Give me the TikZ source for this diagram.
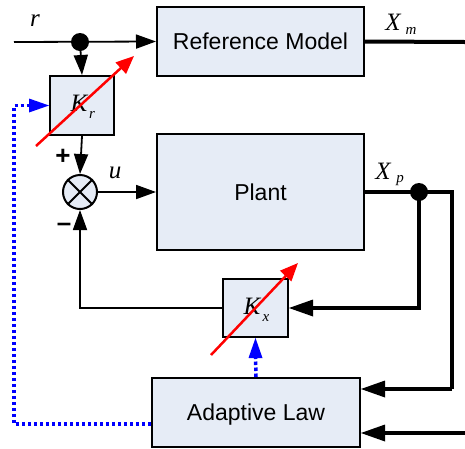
\documentclass[tikz,border=0pt]{standalone}
\usepackage{fontspec}
\setmainfont{Liberation Serif}
\newfontfamily\arialf{Liberation Sans}
\usetikzlibrary{arrows.meta}
\definecolor{boxfill}{RGB}{230,236,246}
\begin{document}
\begin{tikzpicture}[x=1pt,y=-1pt,
  blk/.style={draw=black,line width=2pt,fill=boxfill,inner sep=0pt},
  bigtext/.style={font=\arialf\fontsize{23}{23}\selectfont},
  thin/.style={line width=1.8pt},
  thick4/.style={line width=4pt},
  tip/.style={-{Triangle[length=20pt,width=14pt]}},
  bigtip/.style={line width=0pt,-{Triangle[length=24pt,width=17pt]}},
  redarr/.style={draw=red,line width=2.5pt,-{Triangle[length=18pt,width=15pt]}},
  bluedot/.style={draw=blue,line width=3.5pt,dash pattern=on 3.5pt off 2.5pt},
  bluetip/.style={draw=blue,fill=blue,line width=0pt,-{Triangle[length=20pt,width=14pt]}},
  lab/.style={font=\fontsize{25}{25}\selectfont\itshape,inner sep=0pt},
  sub/.style={font=\fontsize{15}{15}\selectfont\itshape,inner sep=0pt},
  sign/.style={font=\arialf\fontsize{26}{26}\selectfont\bfseries,inner sep=0pt}]
\useasboundingbox (0,0) rectangle (465,448);
% blocks
\node[blk,minimum width=207pt,minimum height=69pt,bigtext] (ref) at (260.5,41.5) {Reference Model};
\node[blk,minimum width=207pt,minimum height=116pt,bigtext] (plant) at (260.5,192) {Plant};
\node[blk,minimum width=64pt,minimum height=59pt] (kr) at (82,105.5) {};
\node[blk,minimum width=65pt,minimum height=58pt] (kx) at (255.5,308) {};
\node[blk,minimum width=208pt,minimum height=69pt] (adapt) at (256,412.5) {};
\node[bigtext] (adtxt) at (256,415) {Adaptive Law};
\node[draw=black,line width=2pt,fill=boxfill,circle,minimum size=34pt,inner sep=0pt] (sum) at (80,192) {};
\draw[line width=2pt] (sum.north west) -- (sum.south east) (sum.north east) -- (sum.south west);
% gain labels
\node[lab] (krK) at (79,103) {K};
\node[sub] (krs) at (92,115) {r};
\node[lab] (kxK) at (252,306) {K};
\node[sub] (kxs) at (266,318) {x};
% coordinates
\coordinate (rin) at (14,42);
\coordinate (rdot) at (80,42);
\coordinate (xmend) at (465,42);
\coordinate (xpdot) at (419,192);
\coordinate (xpc) at (452,192);
\coordinate (xpd) at (452,389);
\coordinate (xpk) at (419,308);
\coordinate (botend) at (465,433);
\coordinate (fbc) at (80,308);
\coordinate (bl1) at (14,424);
\coordinate (bl2) at (14,105.5);
% signal lines
\draw[thin,tip] (rin) -- (ref.west);
\fill (rdot) circle (9pt);
\draw[thin,tip] (rdot) -- (kr.north);
\draw[thin,tip] (kr.south) -- (sum.north);
\draw[thin,tip] (sum.east) -- (plant.west);
\draw[thick4] (ref.east) -- (xmend);
\draw[thick4] (plant.east) -- (xpc) -- (xpd);
\draw[thick4] (xpd) -- ([xshift=22pt]adapt.east |- xpd);
\draw[bigtip] ([xshift=22pt]adapt.east |- xpd) -- (adapt.east |- xpd);
\fill (xpdot) circle (9pt);
\draw[thick4] (xpdot) -- (xpk) -- ([xshift=22pt]kx.east);
\draw[bigtip] ([xshift=22pt]kx.east) -- (kx.east);
\draw[thick4] (botend) -- ([xshift=22pt]adapt.east |- botend);
\draw[bigtip] ([xshift=22pt]adapt.east |- botend) -- (adapt.east |- botend);
\draw[thin,tip] (kx.west) -- (fbc) -- (sum.south);
% blue adaptation paths
\draw[bluedot] (adapt.west |- bl1) -- (bl1) -- (bl2) -- ([xshift=-17pt]kr.west);
\draw[bluetip] ([xshift=-17pt]kr.west) -- (kr.west);
\draw[bluedot] (adapt.north) -- ([yshift=-17pt]kx.south);
\draw[bluetip] ([yshift=-17pt]kx.south) -- (kx.south);
% red variable-gain arrows
\coordinate (r1a) at (36,146);
\coordinate (r1b) at (134,56);
\coordinate (r2a) at (211,355);
\coordinate (r2b) at (298,263);
\draw[redarr] (r1a) -- (r1b);
\draw[redarr] (r2a) -- (r2b);
% labels
\node[lab] (rl) at (35,21) {r};
\node[lab] (ul) at (115,173) {u};
\node[lab] (xml) at (393,22) {X};
\node[sub] (xms) at (411,31) {m};
\node[lab] (xpl) at (383,171) {X};
\node[sub] (xps) at (400,181) {p};
\node[sign] (plus) at (63,157) {+};
\node[sign] (minus) at (64,227) {\textendash};
\end{tikzpicture}
\end{document}
